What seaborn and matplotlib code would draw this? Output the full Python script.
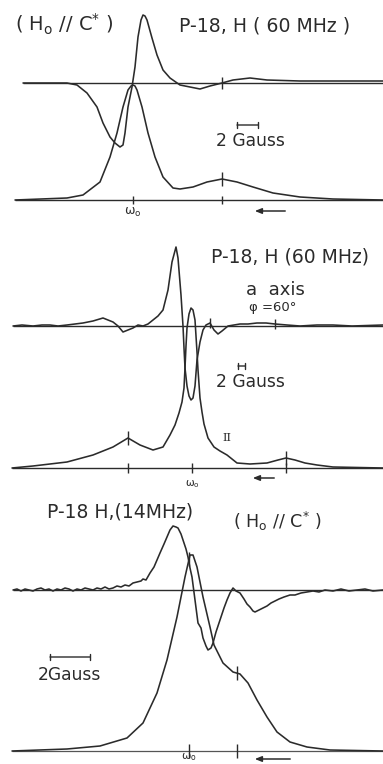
import numpy as np
import pandas as pd
import matplotlib
matplotlib.use("Agg")
import matplotlib.pyplot as plt
import seaborn as sns

# ---------------------------------------------------------------------------
# Proton NMR traces of sample P-18: absorption curve (lower) and its field
# derivative (upper).  x = field offset from the resonance w0 (chart units),
# y = signal amplitude above the respective baseline (arbitrary units).
# ---------------------------------------------------------------------------

# Panel 1: 60 MHz, H0 // c*
abs1_x = [-118, -66, -50, -33, -23, -16, -10, -5, -2, 0, 2, 4, 9, 15, 22, 30,
          40, 47, 60, 74, 89, 104, 120, 140, 167, 200, 250]
abs1_y = [0, 2, 5, 18, 43, 67, 93, 110, 114, 115, 114, 110, 93, 67, 43, 23,
          12, 11, 13, 18, 21, 18, 13, 7, 3, 1, 0]
der1_x = [-110, -66, -56, -46, -36, -30, -23, -18, -13, -10, -8, -5, -1, 2, 5,
          8, 10, 12, 14, 19, 24, 30, 37, 47, 57, 67, 77, 89, 100, 117, 134,
          167, 200, 250]
der1_y = [0, 0, -2, -10, -24, -40, -54, -60, -64, -62, -50, -24, -4, 16, 46,
          63, 68, 67, 63, 45, 28, 13, 5, -2, -4, -6, -3, 0, 3, 5, 3, 2, 2, 2]
ticks1_base = [0, 89]
ticks1_abs = [89]
ticks1_der = [89]

# Panel 2: 60 MHz, a axis, phi = 60 deg
abs2_x = [-180, -159, -125, -99, -79, -64, -52, -39, -29, -22, -17, -13, -10,
          -8, -7, -6, -5, -3, -1, 1, 3, 4, 5, 6, 7, 8, 10, 12, 16, 22, 28,
          35, 45, 58, 75, 86, 94, 103, 113, 125, 141, 191]
abs2_y = [0, 2, 6, 13, 21, 30, 23, 18, 21, 33, 43, 55, 66, 80, 100, 122, 140,
          154, 160, 158, 148, 132, 116, 98, 84, 70, 56, 44, 30, 21, 17, 13, 5,
          4, 5, 8, 10, 8, 5, 3, 1, 0]
der2_x = [-179, -170, -159, -150, -142, -134, -125, -117, -109, -99, -89, -84,
          -79, -74, -69, -64, -59, -54, -49, -44, -39, -34, -29, -24, -20,
          -16, -14, -11, -9, -8, -7, -5, -3, -1, 1, 3, 5, 8, 11, 14, 18, 22,
          26, 30, 36, 42, 48, 56, 65, 74, 83, 95, 108, 125, 141, 160, 191]
der2_y = [0, 1, 0, 1, 1, 0, 1, 2, 3, 5, 8, 6, 4, 0, -6, -4, -2, 1, 0, 2, 6, 10,
          16, 36, 64, 79, 68, 31, 0, -22, -42, -60, -70, -74, -72, -60, -34,
          -16, -4, 1, 3, -4, -8, -5, 0, 1, 2, 2, 3, 3, 2, 1, 0, 1, 1, 0, 1]
ticks2_base = [-64, 0, 94]
ticks2_abs = [-64, 94]
ticks2_der = [18, 83]

# Panel 3: 14 MHz, H0 // c*
abs3_x = [-177, -122, -89, -62, -46, -32, -22, -12, -4, 1, 4, 8, 14, 21, 25,
          34, 44, 51, 59, 68, 78, 88, 101, 118, 141, 194]
abs3_y = [0, 2, 5, 13, 28, 58, 91, 134, 174, 196, 196, 184, 154, 124, 106,
          88, 79, 77, 68, 51, 34, 19, 9, 4, 1, 0]
der3_x = [-176, -172, -168, -164, -160, -156, -152, -148, -144, -140, -136,
          -132, -128, -124, -120, -116, -112, -108, -104, -100, -96, -92, -88,
          -84, -80, -76, -72, -68, -64, -60, -56, -52, -48, -46, -43, -39, -35,
          -32, -29, -25, -22, -19, -16, -13, -11, -8, -6, -3, -1, 1, 3, 6, 9,
          12, 14, 17, 19, 22, 24, 27, 31, 35, 38, 41, 44, 47, 51, 55, 58, 61,
          64, 66, 70, 74, 78, 82, 86, 90, 95, 101, 106, 112, 118, 124, 130,
          136, 144, 152, 160, 168, 176, 184, 194]
der3_y = [0, 1, -1, 1, 0, -1, 1, 2, 0, 1, -1, 1, 0, 2, 1, -1, 1, 0, 2, 1, 0, 2,
          1, 3, 1, 2, 4, 3, 5, 4, 7, 8, 9, 11, 10, 17, 23, 30, 37, 46, 53, 60,
          64, 63, 62, 56, 50, 41, 33, 22, 13, -10, -33, -38, -48, -56, -60,
          -58, -53, -42, -30, -18, -10, -3, 2, -1, -3, -9, -14, -17, -21, -22,
          -20, -18, -16, -13, -11, -9, -7, -5, -5, -3, -2, -1, -2, 0, -1, 1,
          -1, 0, 1, -1, 0]
ticks3_base = [0, 48]
ticks3_abs = [0, 48]

# ---------------------------------------------------------------------------
W, H = 383, 764
INK = "#2b2b2b"
LW = 1.15

sns.set_style("white")
plt.rcParams["font.family"] = ["DejaVu Sans"]

fig = plt.figure(figsize=(W / 100, H / 100), dpi=100)
fig.patch.set_facecolor("white")


def panel(top, bottom, w0, base):
    """Axes spanning the full width; y = 0 on the absorption baseline."""
    ax = fig.add_axes([0, 1 - bottom / H, 1, (bottom - top) / H])
    ax.set_xlim(-w0, W - w0)
    ax.set_ylim(base - bottom, base - top)
    ax.axis("off")
    return ax


def trace(ax, x, y, offset=0.0):
    df = pd.DataFrame({"field": x, "signal": np.asarray(y, float) + offset})
    sns.lineplot(data=df, x="field", y="signal", ax=ax, sort=False,
                 estimator=None, color=INK, lw=LW, legend=False)


def ticks(ax, xs, ycurve_x, ycurve_y, half, offset=0.0):
    for x in xs:
        yc = np.interp(x, ycurve_x, ycurve_y) + offset
        ax.vlines(x, yc - half, yc + half, color=INK, lw=1.0)


def txt(px, py, s, size, **kw):
    fig.text(px / W, 1 - py / H, s, fontsize=size, color=INK,
             ha=kw.pop("ha", "center"), va=kw.pop("va", "center"), **kw)


def arrow(x0, x1, py):
    fig.add_artist(matplotlib.patches.FancyArrowPatch(
        (x0 / W, 1 - py / H), (x1 / W, 1 - py / H), transform=fig.transFigure,
        arrowstyle="-|>,head_length=4,head_width=1.6", color=INK, lw=1.1))


def scalebar(x0, x1, py):
    fig.add_artist(matplotlib.patches.FancyArrowPatch(
        (x0 / W, 1 - py / H), (x1 / W, 1 - py / H), transform=fig.transFigure,
        arrowstyle="|-|,widthA=2.2,widthB=2.2", color=INK, lw=1.0,
        shrinkA=0, shrinkB=0))


H0C = r"( H$\mathregular{_o}$ // C$\mathregular{^{*}}$ )"
W0 = r"$\mathregular{\omega_o}$"

# ---- panel 1 ---------------------------------------------------------------
ax1 = panel(0, 220, 133, 200)
off1 = 117
ax1.hlines(0, -118, W, color=INK, lw=1.0)
ax1.hlines(off1, -110, W, color=INK, lw=1.0)
trace(ax1, abs1_x, abs1_y)
trace(ax1, der1_x, der1_y, off1)
ticks(ax1, ticks1_base, [-200, 300], [0, 0], 4)
ticks(ax1, ticks1_abs, abs1_x, abs1_y, 7)
ticks(ax1, ticks1_der, der1_x, der1_y, 6, off1)
txt(64, 24, H0C, 14)
txt(265, 26, "P-18, H ( 60 MHz )", 13.6)
scalebar(237, 258, 125)
txt(250, 141, "2 Gauss", 12.3)
txt(133, 212, W0, 9)
arrow(288, 252, 211)

# ---- panel 2 ---------------------------------------------------------------
ax2 = panel(220, 500, 192, 468)
off2 = 142
ax2.hlines(0, -180, W, color=INK, lw=1.0)
ax2.hlines(off2, -179, W, color=INK, lw=1.0)
trace(ax2, abs2_x, abs2_y)
trace(ax2, der2_x, der2_y, off2)
ticks(ax2, ticks2_base, [-200, 300], [0, 0], 5)
ticks(ax2, ticks2_abs, abs2_x, abs2_y, 7)
ticks(ax2, ticks2_der, der2_x, der2_y, 5, off2)
txt(290, 257, "P-18, H (60 MHz)", 13.5)
txt(275, 290, "a  axis", 13)
txt(273, 308, "\u03c6 =60\u00b0", 9.5)
scalebar(238, 245, 366)
txt(250, 382, "2 Gauss", 12.3)
txt(227, 438, "II", 8, family="DejaVu Serif")
txt(192, 484, W0, 7.5)
arrow(277, 250, 478)

# ---- panel 3 ---------------------------------------------------------------
ax3 = panel(500, 764, 189, 751)
off3 = 161
ax3.hlines(0, -177, W, color=INK, lw=0.9, alpha=0.8)
ax3.hlines(off3, -176, W, color=INK, lw=1.0)
trace(ax3, abs3_x, abs3_y)
trace(ax3, der3_x, der3_y, off3)
ticks(ax3, ticks3_base, [-200, 300], [0, 0], 7)
ticks(ax3, ticks3_abs, abs3_x, abs3_y, 7)
txt(120, 512, "P-18 H,(14MHz)", 13.5)
txt(277, 521, H0C, 12.6)
scalebar(50, 90, 657)
txt(69, 675, "2Gauss", 12.3)
txt(189, 757, W0, 8)
arrow(293, 252, 759)

fig.savefig("out.png", dpi=100, facecolor="white")
